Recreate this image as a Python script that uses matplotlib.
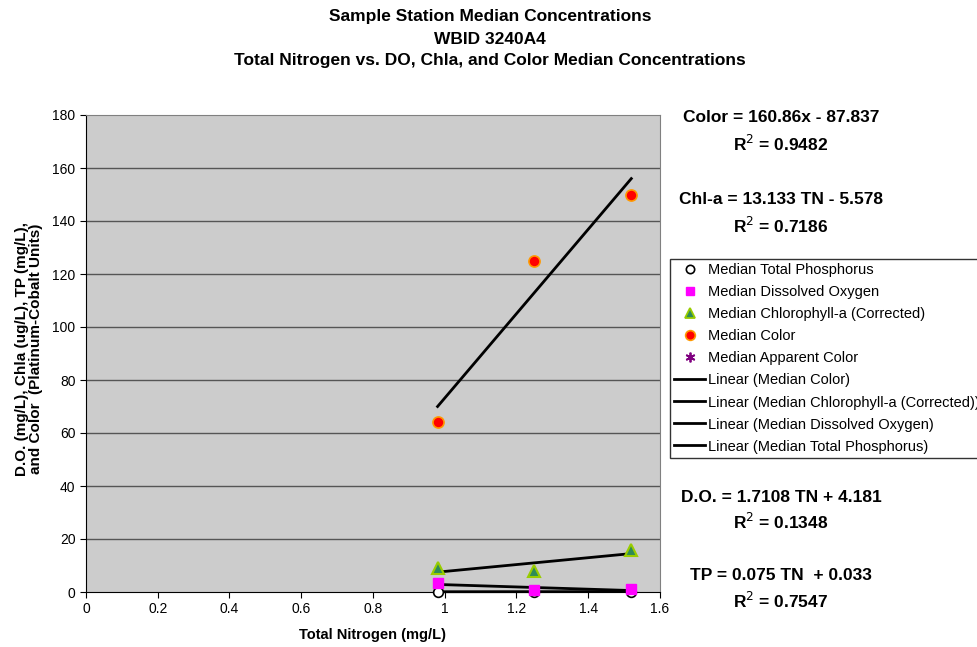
import numpy as np
import matplotlib
matplotlib.use("Agg")
import matplotlib.pyplot as plt
from matplotlib.lines import Line2D

plt.rcParams['font.family'] = ['Liberation Sans', 'DejaVu Sans']

tn = [0.98, 1.25, 1.52]
tp = [0.10, 0.12, 0.15]
do = [3.3, 0.8, 1.0]
chla = [9.0, 8.0, 16.0]
color = [64.0, 125.0, 150.0]

xticks = [0, 0.2, 0.4, 0.6, 0.8, 1.0, 1.2, 1.4, 1.6]
xticklabels = ["0", "0.2", "0.4", "0.6", "0.8", "1", "1.2", "1.4", "1.6"]
yticks = list(range(0, 181, 20))

fig = plt.figure(figsize=(9.78, 6.47), dpi=100)
ax = fig.add_axes([86/978, 1-592/647, (660-86)/978, (592-115)/647])
ax.set_facecolor('#CCCCCC')
ax.set_xlim(0, 1.6)
ax.set_ylim(0, 180)
ax.set_xticks(xticks)
ax.set_xticklabels(xticklabels)
ax.set_yticks(yticks)
for y in yticks[1:-1]:
    ax.axhline(y, color='#555555', lw=1.0, zorder=1)
for s in ['top', 'right']:
    ax.spines[s].set_color('#808080')
for s in ['left', 'bottom']:
    ax.spines[s].set_color('black')
ax.tick_params(direction='out', length=4, labelsize=10, color='black')

def trend(x, y):
    x = np.asarray(x); y = np.asarray(y)
    m, b = np.polyfit(x, y, 1)
    xs = np.array([x.min(), x.max()])
    return xs, m*xs + b

for ys in [color, chla, do, tp]:
    xs, yl = trend(tn, ys)
    ax.plot(xs, yl, color='black', lw=2, zorder=3, clip_on=False)

kw = dict(zorder=4, clip_on=False, linestyle='none')
ax.plot(tn, tp, marker='o', ms=7, mfc='white', mec='black', mew=1.2, **kw)
ax.plot(tn, do, marker='s', ms=7, mfc='#FF00FF', mec='#FF00FF', **kw)
ax.plot(tn, chla, marker='^', ms=8, mfc='#2E8B57', mec='#99CC00', mew=1.5, **kw)
ax.plot(tn, color, marker='o', ms=8, mfc='#FF0000', mec='#FF9900', mew=1.2, **kw)

ax.set_xlabel('Total Nitrogen (mg/L)', fontsize=10.5, fontweight='bold', labelpad=8)
ax.set_ylabel('D.O. (mg/L), Chla (ug/L), TP (mg/L),\nand Color  (Platinum-Cobalt Units)',
              fontsize=11, fontweight='bold', labelpad=6, linespacing=1.0)
ax.yaxis.set_label_coords(-0.075, (592-349)/477)

title_kw = dict(ha='center', va='center', fontsize=12.5, fontweight='bold')
fig.text(490/978, 1-16/647, 'Sample Station Median Concentrations', **title_kw)
fig.text(490/978, 1-39/647, 'WBID 3240A4', **title_kw)
fig.text(490/978, 1-61/647, 'Total Nitrogen vs. DO, Chla, and Color Median Concentrations', **title_kw)

ann = [
    (118, 'Color = 160.86x - 87.837'), (144, r'R$^2$ = 0.9482'),
    (200, 'Chl-a = 13.133 TN - 5.578'), (226, r'R$^2$ = 0.7186'),
    (497, 'D.O. = 1.7108 TN + 4.181'), (522, r'R$^2$ = 0.1348'),
    (576, 'TP = 0.075 TN  + 0.033'), (601, r'R$^2$ = 0.7547'),
]
for yy, t in ann:
    fig.text(781/978, 1-yy/647, t, ha='center', va='center', fontsize=12.5, fontweight='bold')

handles = [
    Line2D([], [], ls='none', marker='o', ms=6, mfc='white', mec='black', mew=1.2),
    Line2D([], [], ls='none', marker='s', ms=6, mfc='#FF00FF', mec='#FF00FF'),
    Line2D([], [], ls='none', marker='^', ms=7, mfc='#2E8B57', mec='#99CC00', mew=1.3),
    Line2D([], [], ls='none', marker='o', ms=7, mfc='#FF0000', mec='#FF9900', mew=1.2),
    Line2D([], [], ls='none', marker=(6, 2, 0), ms=7, mec='#800080', mew=1.3),
    Line2D([], [], color='black', lw=2),
    Line2D([], [], color='black', lw=2),
    Line2D([], [], color='black', lw=2),
    Line2D([], [], color='black', lw=2),
]
labels = ['Median Total Phosphorus', 'Median Dissolved Oxygen', 'Median Chlorophyll-a (Corrected)',
          'Median Color', 'Median Apparent Color', 'Linear (Median Color)',
          'Linear (Median Chlorophyll-a (Corrected))', 'Linear (Median Dissolved Oxygen)',
          'Linear (Median Total Phosphorus)']
leg = fig.legend(handles, labels, loc='upper left', bbox_to_anchor=(670/978, 1-259/647),
                 fontsize=10.5, frameon=True, fancybox=False, edgecolor='black',
                 handlelength=2.1, handletextpad=0.2, labelspacing=0.55,
                 borderpad=0.3, borderaxespad=0)
leg.get_frame().set_linewidth(1.0)

fig.savefig('out.png', dpi=100)
